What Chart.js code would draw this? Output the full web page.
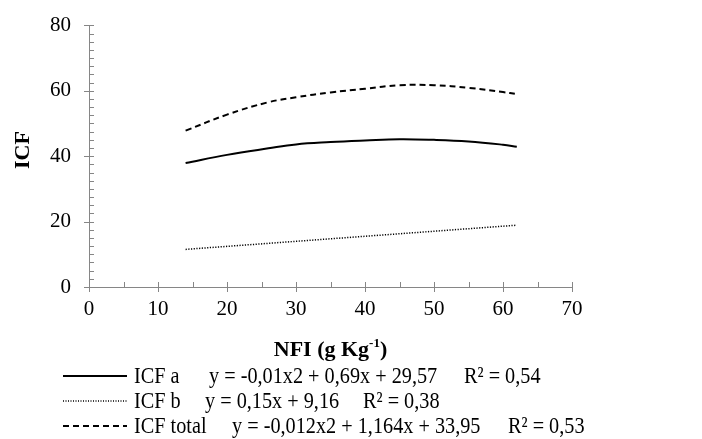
<!DOCTYPE html>
<html>
<head>
<meta charset="utf-8">
<script src="https://cdn.jsdelivr.net/npm/chart.js@4/dist/chart.umd.min.js"></script>
<style>
  html, body { margin: 0; padding: 0; background: #fff; }
  #wrap { width: 702px; height: 439px; }
</style>
</head>
<body>
<div id="wrap"><canvas id="chart" width="702" height="439"></canvas></div>
<script>
// NFI (g Kg-1) positions along each fitted curve
var nfi = [14, 20, 26, 30, 35, 40, 45, 50, 55, 60, 62]
var icfA = [37.9, 40.4, 42.4, 43.6, 44.3, 44.8, 45.2, 45.0, 44.5, 43.5, 42.9]
var icfTotal = [47.8, 52.7, 56.5, 58.0, 59.5, 60.6, 61.7, 61.7, 60.9, 59.6, 59.0]
// ICF b is a straight fit, so its two ends are enough
var nfiB = [14, 62]
var icfB = [11.5, 18.9]

var seriesNames = ['ICF a', 'ICF b', 'ICF total']
var equations = ['y = -0,01x2 + 0,69x + 29,57', 'y = 0,15x + 9,16', 'y = -0,012x2 + 1,164x + 33,95']
var r2Labels = ['R² = 0,54', 'R² = 0,38', 'R² = 0,53']

var axisGray = '#868686'
var serif = '"Liberation Serif", "Times New Roman", serif'

function points(xs, ys) {
    return xs.map(function (x, i) { return { x: x, y: ys[i] } })
}

// major ticks cross the axis, minor ones point into the plot
var axisMarks = {
    id: 'axisMarks',
    afterDraw: function (chart) {
        var ctx = chart.ctx, x = chart.scales.x, y = chart.scales.y
        ctx.save()
        ctx.strokeStyle = axisGray
        ctx.lineWidth = 1
        ctx.beginPath()
        for (var v = 0; v <= 80; v += 2.5) {
            var py = Math.round(y.getPixelForValue(v)) + 0.5
            var major = v % 20 === 0
            ctx.moveTo(x.left - (major ? 5 : 0), py)
            ctx.lineTo(x.left + 5, py)
        }
        for (var u = 0; u <= 70; u += 5) {
            var px = Math.round(x.getPixelForValue(u)) + 0.5
            var big = u % 10 === 0
            ctx.moveTo(px, y.bottom - 5)
            ctx.lineTo(px, y.bottom + (big ? 5 : 0))
        }
        ctx.stroke()
        ctx.restore()
    }
}

// narrow Times-style text, as the legend is set tight
function narrowText(ctx, text, x, y, squeeze) {
    ctx.save()
    ctx.translate(x, y)
    ctx.scale(squeeze, 1)
    ctx.fillText(text, 0, 0)
    ctx.restore()
}

// axis titles and the equation legend under the plot
var titlesAndLegend = {
    id: 'titlesAndLegend',
    afterDraw: function (chart) {
        var ctx = chart.ctx
        var area = chart.chartArea
        ctx.save()
        ctx.fillStyle = '#000'

        // y title
        ctx.font = 'bold 22px ' + serif
        ctx.textAlign = 'center'
        ctx.textBaseline = 'middle'
        ctx.translate(23, 150)
        ctx.rotate(-Math.PI / 2)
        ctx.fillText('ICF', 0, 0)
        ctx.setTransform(1, 0, 0, 1, 0, 0)

        // x title with superscript
        ctx.textAlign = 'left'
        ctx.textBaseline = 'alphabetic'
        var main = 'NFI (g Kg', sup = '-1', tail = ')'
        ctx.font = 'bold 22px ' + serif
        var w1 = ctx.measureText(main).width, w3 = ctx.measureText(tail).width
        ctx.font = 'bold 13px ' + serif
        var w2 = ctx.measureText(sup).width
        var sx = (area.left + area.right) / 2 - (w1 + w2 + w3) / 2
        ctx.font = 'bold 22px ' + serif
        ctx.fillText(main, sx, 356)
        ctx.font = 'bold 13px ' + serif
        ctx.fillText(sup, sx + w1, 347)
        ctx.font = 'bold 22px ' + serif
        ctx.fillText(tail, sx + w1 + w2, 356)

        // legend rows
        var baselines = [383, 408, 433]
        var eqX = [209, 205, 232]
        var r2X = [464, 363, 508]
        chart.data.datasets.forEach(function (ds, i) {
            var by = baselines[i]
            ctx.strokeStyle = '#000'
            ctx.lineWidth = ds.borderWidth
            ctx.setLineDash(ds.legendDash)
            ctx.beginPath()
            ctx.moveTo(63, by - 7)
            ctx.lineTo(127, by - 7)
            ctx.stroke()
            ctx.setLineDash([])
            ctx.font = '23px ' + serif
            narrowText(ctx, seriesNames[i], 134, by, 0.88)
            narrowText(ctx, equations[i], eqX[i], by, 0.88)
            narrowText(ctx, r2Labels[i], r2X[i], by, 0.88)
        })
        ctx.restore()
    }
}

document.addEventListener('DOMContentLoaded', function () {
    var ctx = document.getElementById('chart').getContext('2d')
    new Chart(ctx, {
        type: 'scatter',
        data: {
            datasets: [{
                label: seriesNames[0],
                data: points(nfi, icfA),
                borderColor: '#000',
                borderWidth: 2,
                borderDash: [],
                legendDash: [],
                tension: 0.4
            }, {
                label: seriesNames[1],
                data: points(nfiB, icfB),
                borderColor: '#000',
                borderWidth: 1.5,
                borderDash: [1.2, 1.5],
                legendDash: [1, 1.5]
            }, {
                label: seriesNames[2],
                data: points(nfi, icfTotal),
                borderColor: '#000',
                borderWidth: 2,
                borderDash: [6, 4],
                legendDash: [6, 4],
                tension: 0.4
            }]
        },
        options: {
            responsive: false,
            animation: false,
            showLine: true,
            elements: { point: { radius: 0, hoverRadius: 0 } },
            layout: { padding: { top: 8, right: 130, left: 0, bottom: 0 } },
            plugins: { legend: { display: false }, tooltip: { enabled: false } },
            scales: {
                x: {
                    type: 'linear',
                    min: 0, max: 70,
                    afterFit: function (scale) { scale.height = 152 },
                    grid: { display: false, drawTicks: false },
                    border: { display: true, color: axisGray, width: 1 },
                    ticks: {
                        stepSize: 10, padding: 10, maxRotation: 0,
                        color: '#000', font: { family: serif, size: 21 }
                    }
                },
                y: {
                    min: 0, max: 80,
                    afterFit: function (scale) { scale.width = 89 },
                    grid: { display: false, drawTicks: false },
                    border: { display: true, color: axisGray, width: 1 },
                    ticks: {
                        stepSize: 20, padding: 18,
                        color: '#000', font: { family: serif, size: 21, lineHeight: 0.7 }
                    }
                }
            }
        },
        plugins: [axisMarks, titlesAndLegend]
    })
})
</script>
</body>
</html>
